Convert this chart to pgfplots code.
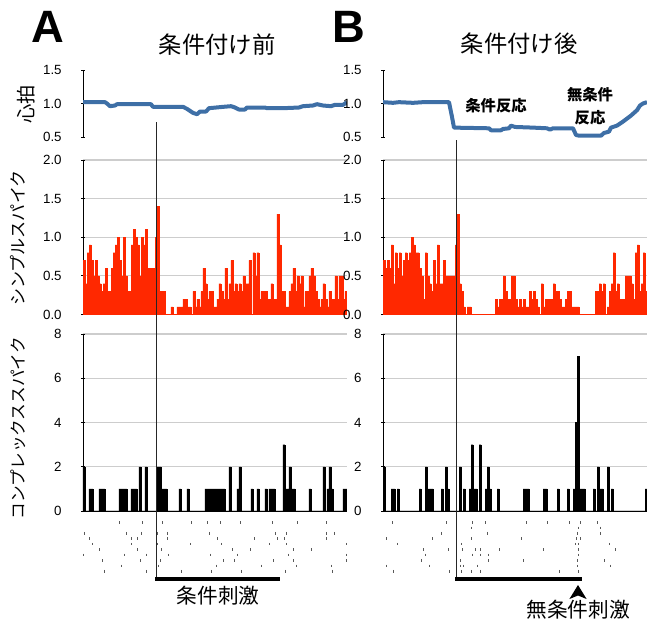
\documentclass[border=0pt]{standalone}
\usepackage{pgfplots}
\pgfplotsset{compat=1.18}
\usepackage{fontspec}
\setmainfont{Liberation Sans}
\newfontfamily\cjk{Noto Sans CJK JP}
\definecolor{hrblue}{RGB}{62,111,166}
\definecolor{spred}{RGB}{255,40,0}
\definecolor{gridgray}{RGB}{205,205,205}
\pgfplotsset{
  basepanel/.style={scale only axis, width=198pt, xmin=0, xmax=132, enlargelimits=false,
    tick align=inside, major tick length=3pt,
    tick style={black, line width=0.6pt}, xtick=\empty,
    /pgf/number format/assume math mode=true,
    yticklabel style={font=\fontsize{10}{10}\selectfont, xshift=-11pt}},
  plainlines/.style={axis line style={-, black, line width=0.6pt},
    every outer y axis line/.append style={-}, every outer x axis line/.append style={-}},
  onedec/.style={yticklabel style={/pgf/number format/fixed, /pgf/number format/fixed zerofill, /pgf/number format/precision=1}},
  heart/.style={basepanel, onedec, height=50.25pt, ymin=0.5, ymax=1.5, ytick={0.5,1,1.5},
    axis x line=none, axis y line=left, plainlines},
  simple/.style={basepanel, onedec, height=115.875pt, ymin=0, ymax=2, ytick={0,0.5,1,1.5,2},
    axis x line=bottom, axis y line=left, plainlines, ymajorgrids, grid style={gridgray, line width=0.8pt}},
  complex/.style={basepanel, height=132.75pt, ymin=0, ymax=8, ytick={0,2,4,6,8},
    axis x line=bottom, axis y line=left, plainlines, ymajorgrids, grid style={gridgray, line width=0.8pt}},
  raster/.style={scale only axis, width=198pt, height=42.75pt, xmin=0, xmax=132, ymin=0, ymax=10.5,
    y dir=reverse, hide axis, clip=false},
  overlayax/.style={scale only axis, width=198pt, height=466.5pt, xmin=0, xmax=132, ymin=0, ymax=622,
    y dir=reverse, hide axis, clip=false},
  hrline/.style={color=hrblue, line width=3pt, line join=round},
  redbars/.style={ybar, bar width=1, fill=spred, draw=spred, line width=0.1pt},
  blackbars/.style={ybar, bar width=1, fill=black, draw=black, line width=0.1pt},
  rastermarks/.style={only marks, mark=|, mark size=1pt, color=black!65, mark options={line width=0.6pt}},
}
\begin{document}
\begin{tikzpicture}
\path[use as bounding box] (0,0) rectangle (485.25pt,-466.5pt);

%%%%%%%%%%%%%%%% Panel A %%%%%%%%%%%%%%%%
\begin{axis}[heart, at={(62.25pt,-102.75pt)}, anchor=south west]
\addplot[hrline] coordinates {(0,1.02) (11,1.02) (12,1.0) (13.5,0.96) (16,0.97) (17,0.99) (34,0.99) (35,0.95) (50,0.95) (52,0.92) (55,0.86) (57,0.84) (58.5,0.88) (61.5,0.88) (63,0.93) (70,0.95) (74,0.96) (76,0.94) (78,0.91) (81,0.91) (82,0.94) (91,0.94) (92,0.93) (100,0.93) (108,0.94) (110,0.96) (115,0.97) (117,0.99) (120,0.97) (124,0.96) (126,0.98) (130,0.98) (132,1.02)};
\end{axis}

\begin{axis}[simple, at={(62.25pt,-235.875pt)}, anchor=south west]
\addplot[redbars] table[x expr=\coordindex+0.5, y=v, row sep=\\] {
v\\ 0.7\\ 0.4\\ 0.8\\ 0.9\\ 0.7\\ 0.5\\ 0.7\\ 0.5\\ 0.4\\ 0.3\\
0.4\\ 0.6\\ 0.3\\ 0.3\\ 0.6\\ 0.8\\ 0.9\\ 1.0\\ 0.7\\ 0.5\\
1.0\\ 0.5\\ 0.3\\ 0.3\\ 0.9\\ 1.1\\ 1.0\\ 0.9\\ 0.5\\ 1.0\\
0.9\\ 1.1\\ 0.6\\ 0.6\\ 0.6\\ 0.6\\
1.0\\ 1.4\\ 0.3\\ 0.3\\ 0.3\\ 0\\ 0\\ 0\\ 0.1\\ 0\\
0\\ 0.1\\ 0.1\\ 0.1\\ 0.2\\ 0.2\\ 0.1\\ 0.1\\ 0\\ 0.3\\
0.1\\ 0.2\\ 0.1\\ 0.3\\ 0.6\\ 0.4\\ 0.2\\ 0.3\\ 0.3\\ 0.1\\
0.1\\ 0.2\\ 0.4\\ 0.3\\ 0.2\\ 0.6\\ 0.2\\ 0.4\\ 0.7\\ 0.3\\
0.4\\ 0.3\\ 0.4\\ 0.3\\ 0.5\\ 0.4\\ 0.4\\ 0.7\\ 0\\ 0.8\\
0.5\\ 0.8\\ 0.2\\ 0.3\\ 0.3\\ 0.3\\ 0.2\\ 0.2\\ 0.4\\ 0.2\\
0.2\\ 1.3\\ 0.9\\ 0.3\\ 0.3\\ 0.1\\ 0.1\\ 0.3\\ 0.4\\ 0.6\\
0.3\\ 0.5\\ 0.4\\ 0.5\\ 0.1\\ 0.3\\ 0.3\\ 0.5\\ 0.6\\ 0.5\\
0.3\\ 0.2\\ 0.1\\ 0.2\\ 0.4\\ 0.2\\ 0.1\\ 0.3\\ 0.2\\ 0.2\\
0.5\\ 0.2\\ 0.5\\ 0.5\\ 0.2\\ 0.3\\
};
\end{axis}

\begin{axis}[complex, at={(62.25pt,-383.25pt)}, anchor=south west]
\addplot[blackbars] coordinates {(0.5,2) (3.5,1) (4.5,1) (8.5,1) (9.5,1) (10.5,1) (18.5,1) (19.5,1) (20.5,1) (21.5,1) (24.5,1) (25.5,1) (26.5,1) (28.5,2) (31.5,2) (37.5,2) (38.5,2) (39.5,1) (40.5,1) (41.5,1) (48.5,1) (52.5,1) (61.5,1) (62.5,1) (63.5,1) (64.5,1) (65.5,1) (66.5,1) (67.5,1) (68.5,1) (69.5,1) (70.5,1) (73.5,2) (77.5,1) (78.5,2) (84.5,1) (87.5,1) (91.5,1) (93.5,1) (94.5,1) (95.5,1) (100.5,3) (101.5,1) (102.5,1) (103.5,2) (104.5,1) (105.5,1) (113.5,1) (120.5,2) (122.5,1) (123.5,2) (124.5,1) (130.5,1) (131.5,1)};
\end{axis}

\begin{axis}[raster, at={(62.25pt,-430.5pt)}, anchor=south west]
\addplot[rastermarks] coordinates {
(18.2,1) (29.7,1) (39.8,1) (54,1) (62.2,1) (68.8,1) (78.8,1) (94.5,1) (107,1) (121.8,1)
(0.5,3) (21.8,3) (29,3) (37.2,3) (42.2,3) (63,3) (96,3) (101.8,3) (121.5,3) (125.8,3)
(3.2,4) (24.3,4) (27.2,4) (42.2,4) (67.2,4) (85.5,4) (97.2,4) (100.5,4) (121.8,4)
(4.8,5) (24,5) (37.2,5) (53.8,5) (69,5) (93,5) (101.8,5) (131.5,5)
(8.2,6) (27.3,6) (39.3,6) (74.8,6) (83.5,6) (105.2,6) (114.3,6)
(0.2,7) (20.5,7) (31.5,7) (42.7,7) (63.8,7) (77.3,7) (102.7,7) (131.8,7)
(9.7,8) (28.8,8) (38.5,8) (70.2,8) (75.5,8) (95.2,8) (105.2,8) (131.5,8)
(19.3,9) (37.7,9) (66.5,9) (89.3,9) (106.5,9) (124.3,9)
(10.7,10) (31.8,10) (49.3,10) (64.3,10) (79.3,10) (101.3,10) (124.8,10)};
\end{axis}

\begin{axis}[overlayax, at={(62.25pt,-466.5pt)}, anchor=south west]
\addplot[black!85, line width=0.6pt] coordinates {(36.5,122) (36.5,579)};
\addplot[black, line width=3pt] coordinates {(36.2,579) (98.5,579)};
\end{axis}

%%%%%%%%%%%%%%%% Panel B %%%%%%%%%%%%%%%%
\begin{axis}[heart, at={(287.25pt,-102.75pt)}, anchor=south west]
\addplot[hrline] coordinates {(0,1.02) (5,1.01) (8,1.02) (15,1.01) (20,1.02) (33,1.02) (34.5,0.8) (35.5,0.64) (53,0.63) (54,0.60) (59,0.60) (60,0.62) (63,0.63) (64,0.67) (66,0.65) (75,0.64) (82,0.63) (83.5,0.61) (85,0.63) (95,0.63) (96.5,0.53) (98,0.52) (109,0.52) (110.5,0.56) (113,0.58) (114,0.64) (117,0.67) (120,0.73) (124,0.82) (127,0.9) (128.5,0.97) (130,1.0) (132,1.02)};
\end{axis}

\begin{axis}[simple, at={(287.25pt,-235.875pt)}, anchor=south west]
\addplot[redbars] table[x expr=\coordindex+0.5, y=v, row sep=\\] {
v\\ 0.7\\ 0.6\\ 0.7\\ 0.6\\ 0.9\\ 0.4\\ 0.8\\ 0.6\\ 0.8\\ 0.5\\
0.7\\ 0.8\\ 0.7\\ 0.8\\ 1.0\\ 0.9\\ 0.8\\ 0.8\\ 0.6\\ 0.5\\
0.2\\ 0.8\\ 0.5\\ 0.4\\ 0.3\\ 0.7\\ 0.4\\ 0.9\\ 0.4\\ 0.4\\
0.7\\ 0.5\\ 0.5\\ 0.5\\ 0.5\\ 0.5\\
0.9\\ 1.3\\ 0.4\\ 0.3\\ 0.1\\ 0\\ 0.1\\ 0.1\\ 0\\ 0\\
0\\ 0\\ 0\\ 0\\ 0\\ 0\\ 0\\ 0\\ 0\\ 0\\
0.2\\ 0.1\\ 0.2\\ 0.2\\ 0.5\\ 0.3\\ 0.2\\ 0.2\\ 0.5\\ 0.5\\
0.2\\ 0.1\\ 0.2\\ 0.1\\ 0.2\\ 0.1\\ 0.1\\ 0.3\\ 0.2\\ 0.3\\
0.2\\ 0.1\\ 0\\ 0.4\\ 0.1\\ 0.2\\ 0.2\\ 0.2\\ 0.2\\ 0.4\\
0.3\\ 0.3\\ 0.2\\ 0.1\\ 0.1\\ 0.2\\ 0.3\\ 0.3\\ 0.1\\ 0.1\\
0.1\\ 0.1\\ 0\\ 0\\ 0\\ 0\\ 0\\ 0\\ 0\\ 0\\
0.3\\ 0.3\\ 0.4\\ 0.3\\ 0.4\\ 0\\ 0.1\\ 0.3\\ 0.4\\ 0.8\\
0.3\\ 0.4\\ 0.2\\ 0.2\\ 0.2\\ 0.5\\ 0.5\\ 0.5\\ 0.4\\ 0.2\\
0.8\\ 0.9\\ 0.3\\ 0.4\\ 0.8\\ 0.3\\
};
\end{axis}

\begin{axis}[complex, at={(287.25pt,-383.25pt)}, anchor=south west]
\addplot[blackbars] coordinates {(0.5,2) (4.5,1) (5.5,1) (7.5,1) (18.5,1) (21.5,2) (22.5,1) (23.5,1) (24.5,1) (29.5,1) (31.5,2) (32.5,1) (38.5,2) (40.5,1) (43.5,1) (44.5,3) (45.5,1) (46.5,1) (48.5,3) (51.5,1) (52.5,2) (53.5,1) (57.5,1) (70.5,1) (71.5,1) (72.5,1) (80.5,1) (81.5,1) (87.5,1) (92.5,1) (95.5,1) (96.5,4) (97.5,7) (98.5,1) (99.5,1) (100.5,1) (105.5,1) (107.5,2) (108.5,1) (109.5,1) (112.5,2) (114.5,1) (131.5,1)};
\end{axis}

\begin{axis}[raster, at={(287.25pt,-430.5pt)}, anchor=south west]
\addplot[rastermarks] coordinates {
(4.7,1) (31.8,1) (44.8,1) (51,1) (71.8,1) (82.3,1) (93.2,1) (98.5,1) (107.2,1)
(44.3,2) (97.7,2) (108.5,2)
(29.3,3) (52.3,3) (97.2,3) (108.8,3)
(1.8,4) (24.8,4) (44.3,4) (69.3,4) (96.8,4) (98.5,4)
(7.3,5) (39.3,5) (96,5) (97.7,5) (113.2,5)
(20.2,6) (32.7,6) (39.7,6) (46,6) (48.8,6) (58,6) (80.2,6) (97.7,6) (116,6)
(21,7) (44.7,7) (48.5,7) (52.5,7) (97.7,7)
(19,8) (38.5,8) (52.7,8) (70.2,8) (97.3,8) (110.7,8)
(1.8,9) (23,9) (38.5,9) (40.2,9) (47.3,9) (97.3,9) (113.5,9)
(5.2,10) (33.2,10) (39.3,10) (44,10) (48.5,10) (88,10) (97.7,10)};
\end{axis}

\begin{axis}[overlayax, at={(287.25pt,-466.5pt)}, anchor=south west]
\addplot[black!85, line width=0.6pt] coordinates {(36.5,140) (36.5,579)};
\addplot[black, line width=3pt] coordinates {(36.2,579) (99.3,579)};
\addplot[fill=black, draw=none] coordinates {(97.5,585) (93.2,599) (97.5,595.5) (101.8,599)};
\end{axis}

%%%%%%%%%%%%%%%% Texts %%%%%%%%%%%%%%%%
\begin{scope}[x=0.75pt, y=-0.75pt]
\node[font=\fontsize{34}{34}\selectfont\bfseries] at (47.5,27) {A};
\node[font=\fontsize{34}{34}\selectfont\bfseries] at (349,27) {B};
\node[font=\fontsize{17.5}{17.5}\selectfont\cjk] at (217,45) {条件付け前};
\node[font=\fontsize{17.5}{17.5}\selectfont\cjk] at (519,44) {条件付け後};
\node[font=\fontsize{14.5}{14.5}\selectfont\cjk, rotate=90] at (26,104) {心拍};
\node[font=\fontsize{12.8}{12.8}\selectfont\cjk, rotate=90] at (18,238) {シンプルスパイク};
\node[font=\fontsize{12.5}{12.5}\selectfont\cjk, rotate=90] at (18,428) {コンプレックススパイク};
\node[font=\fontsize{15.5}{15.5}\selectfont\cjk] at (218,596) {条件刺激};
\node[font=\fontsize{15.5}{15.5}\selectfont\cjk] at (578,610) {無条件刺激};
\node[font=\fontsize{11.5}{11.5}\selectfont\cjk\bfseries] at (496,106) {条件反応};
\node[font=\fontsize{11.5}{11.5}\selectfont\cjk\bfseries] at (590,95) {無条件};
\node[font=\fontsize{11.5}{11.5}\selectfont\cjk\bfseries] at (590,118) {反応};
\end{scope}
\end{tikzpicture}
\end{document}
